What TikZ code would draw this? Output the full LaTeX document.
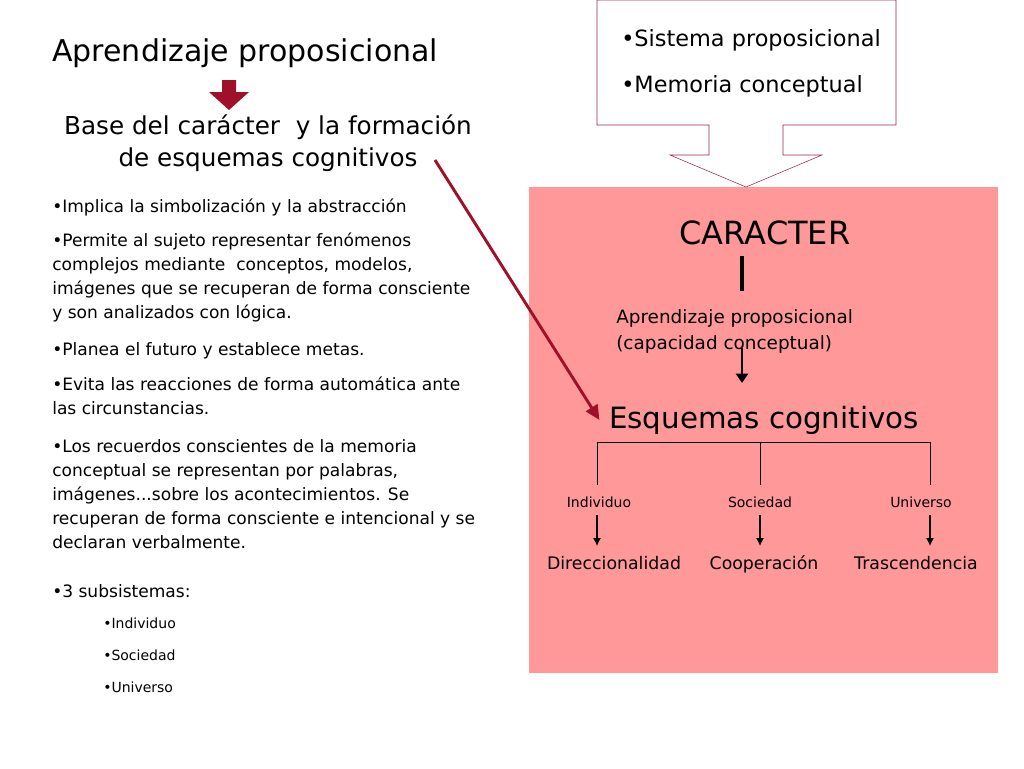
\documentclass[tikz,border=0pt]{standalone}
\usepackage{fontspec}
\setmainfont{DejaVu Sans}
\usetikzlibrary{positioning,arrows.meta}
\definecolor{wine}{RGB}{160,16,40}
\definecolor{callout}{RGB}{150,40,70}
\definecolor{rose}{RGB}{255,153,153}
\tikzset{
    txt/.style={inner sep=0pt, anchor=west},
    bul/.style={txt, font=\fontsize{12.8}{18}\selectfont},
    subbul/.style={txt, font=\fontsize{10.5}{12}\selectfont},
    small/.style={inner sep=0pt, font=\fontsize{10.5}{12}\selectfont},
    leaf/.style={inner sep=0pt, text height=9pt, text depth=3pt, font=\fontsize{13}{14}\selectfont},
    down/.style={-{Latex[length=6pt,width=6pt]}, thick}
}
\begin{document}
\begin{tikzpicture}[x=0.75pt,y=-0.75pt]
    \useasboundingbox (0,0) rectangle (1024,768);
    % pink panel and callout
    \fill[rose] (529,187) rectangle (998,673);
    \draw[callout, fill=white] (597,0) -- (896,0) -- (896,125) -- (783,125) -- (783,155) -- (822,155)
        -- (746,187) -- (670,155) -- (709,155) -- (709,125) -- (597,125) -- cycle;
    \node[txt, font=\fontsize{16.8}{18}\selectfont] (sis) at (621,40) {•Sistema proposicional};
    \node[txt, font=\fontsize{16.8}{18}\selectfont] (mem) at (621,86) {•Memoria conceptual};
    % left column
    \node[txt, font=\fontsize{22.5}{26}\selectfont] (title) at (52,53) {Aprendizaje proposicional};
    \fill[wine] (222,80) -- (236,80) -- (236,92) -- (249,92) -- (229,110) -- (209,92) -- (222,92) -- cycle;
    \node[inner sep=0pt, font=\fontsize{18.5}{24}\selectfont, align=center] (base) at (268,143)
        {Base del carácter\ \ y la formación\\de esquemas cognitivos};
    \node[bul] (b1) at (52,207) {•Implica la simbolización y la abstracción};
    \node[bul, align=left, anchor=north west] (b2) at (52,233) {•Permite al sujeto representar fenómenos\\complejos mediante\ \ conceptos, modelos,\\imágenes que se recuperan de forma consciente\\y son analizados con lógica.};
    \node[bul] (b3) at (52,351) {•Planea el futuro y establece metas.};
    \node[bul, align=left, anchor=north west] (b4) at (52,377) {•Evita las reacciones de forma automática ante\\las circunstancias.};
    \node[bul, align=left, anchor=north west] (b5) at (52,439) {•Los recuerdos conscientes de la memoria\\conceptual se representan por palabras,\\imágenes...sobre los acontecimientos. Se\\recuperan de forma consciente e intencional y se\\declaran verbalmente.};
    \node[bul] (b6) at (52,591) {•3 subsistemas:};
    \node[subbul] (s1) at (103,623) {•Individuo};
    \node[subbul] (s2) at (103,655) {•Sociedad};
    \node[subbul] (s3) at (103,687) {•Universo};
    % right panel
    \node[inner sep=0pt, font=\fontsize{24}{28}\selectfont] (car) at (765,233) {CARACTER};
    \draw[line width=2.5pt] (742,256) -- (742,291);
    \node[txt, align=left, anchor=north west, font=\fontsize{13.8}{20}\selectfont] (apr) at (616,309)
        {Aprendizaje proposicional\\(capacidad conceptual)};
    \coordinate (atop) at (742,348);
    \node[inner sep=0pt, font=\fontsize{22}{28}\selectfont] (esq) at (764,420) {Esquemas cognitivos};
    \draw[line width=2pt, -{Triangle[length=7pt,width=9pt]}] (atop) -- (742,383);
    \draw[wine, line width=2.2pt, -{Triangle[length=11pt,width=10pt]}] (435,160) -- ([xshift=-7pt]esq.west);
    \draw (597,485) -- (597,442) -- (930,442) -- (930,485);
    \draw (760,442) -- (760,485);
    \node[small] (ind) at (599,502) {Individuo};
    \node[small] (soc) at (760,502) {Sociedad};
    \node[small] (uni) at (921,502) {Universo};
    \node[leaf] (dir) at (614,565) {Direccionalidad};
    \node[leaf] (coo) at (764,565) {Cooperación};
    \node[leaf] (tra) at (916,565) {Trascendencia};
    \draw[down] (597,515) -- (597,546);
    \draw[down] (760,515) -- (760,546);
    \draw[down] (930,515) -- (930,546);
\end{tikzpicture}
\end{document}
